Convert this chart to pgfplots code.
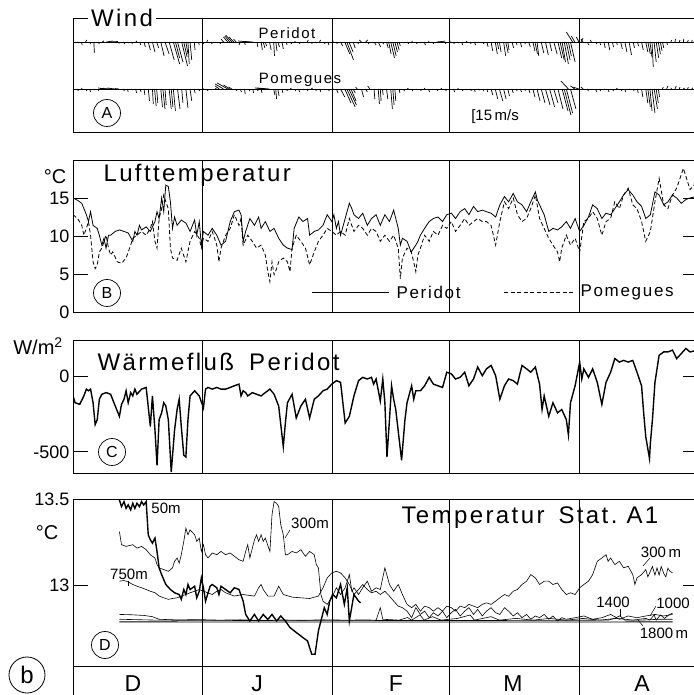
\documentclass[border=0pt]{standalone}
\usepackage{fontspec}
\setmainfont{Liberation Sans}
\newfontfamily\lsp[LetterSpace=10]{Liberation Sans}
\usepackage{pgfplots}
\pgfplotsset{compat=1.18}
\newcommand\tickfont{\fontsize{18}{18}\selectfont}
\pgfplotsset{
  panel/.style={scale only axis, width=625pt, xmin=0, xmax=149.5,
    anchor=south west, axis line style={line width=0.9pt},
    xtick={31,62,90,121}, xticklabels={}, xmajorgrids,
    major x grid style={black, line width=0.6pt},
    x tick style={draw=none},
    y tick style={black, line width=0.7pt},
    major tick length=15pt,
    every tick label/.append style={font=\tickfont},
    /pgf/number format/assume math mode=true},
}
\pgfplotstableread{
x y u v
0 90 0.2 -2
1 90 0.3 -1
2 90 0.2 -3
3 90 0.3 2
4 90 0.2 -2
5 90 0.1 -11
6 90 0.3 -2
7 90 0.4 1
8 90 1.5 1
9 90 1.8 0.5
10 90 1.2 -1
11 90 1.8 0
12 90 0.4 -2
13 90 0.3 -1
14 90 0.2 -2
15 90 0.3 1
16 90 0.2 -3
17 90 0.3 -5
18 90 0.5 -8
19 90 0.6 -10
20 90 0.5 -6
21 90 0.8 -14
22 90 1.0 -12
23 90 1.2 -18
24 90 1.5 -22
24.5 90 1.0 -16
25 90 1.3 -20
26 90 1.4 -24
26.5 90 0.8 -15
27 90 0.5 -12
27.5 90 0.3 -22
28 90 0.4 -18
29 90 0.2 -8
30 90 0.2 -3
31 90 0.3 -2
32 90 0.2 2
33 90 0.3 -2
34 90 0.2 -1
35 90 0.3 -2
36 90 -0.6 3
37 90 -1.0 5
37.5 90 -1.2 6
38 90 -1.5 7
38.5 90 -1.2 5
39 90 -0.6 3
40 90 -0.3 -3
41 90 0.2 -3
42 90 -2.5 1
43 90 -2.0 0.5
44 90 0.2 -5
45 90 0.3 -8
45.5 90 0.4 -6
46 90 0.3 -4
47 90 0.4 -8
48 90 0.2 -14
48.5 90 0.3 -9
49 90 0.4 -5
50 90 0.3 -7
51 90 0.2 -3
52 90 0.3 -2
53 90 0.2 1
54 90 0.3 -2
55 90 0.2 -1
56 90 0.3 2
57 90 0.2 -2
58 90 0.3 -1
59 90 0.2 2
60 90 0.3 -2
61 90 0.2 -3
62 90 0.3 1
63 90 0.2 -2
64 90 0.5 -4
65 90 1.2 -12
65.5 90 1.6 -18
66 90 1.0 -10
67 90 0.5 -6
68 90 0.3 -2
69 90 -0.5 2
70 90 0.5 2
71 90 -0.4 -2
72 90 0.5 -3
73 90 0.6 -5
74 90 0.3 -2
75 90 0.4 -6
75.5 90 0.6 -12
76 90 0.9 -16
76.5 90 0.8 -14
77 90 0.6 -10
77.5 90 0.5 -8
78 90 0.3 -4
79 90 0.2 -1
80 90 0.3 -2
81 90 0.2 1
82 90 0.3 -2
83 90 0.2 -1
84 90 0.3 -3
85 90 0.2 1
86 90 0.3 -2
87 90 1.2 0.5
88 90 1.0 1
89 90 0.2 -2
90 90 0.3 1
91 90 0.2 -2
92 90 0.3 -1
93 90 0.2 -3
94 90 0.3 1
95 90 0.2 -2
96 90 0.3 -3
97 90 0.2 -1
98 90 0.3 -2
99 90 0.3 -5
100 90 0.4 -9
101 90 0.5 -12
101.5 90 0.3 -7
102 90 0.4 -10
103 90 0.5 -14
103.5 90 0.6 -11
104 90 0.3 -8
105 90 0.4 -6
106 90 0.2 -3
107 90 0.3 -5
108 90 0.2 -2
109 90 0.4 -5
110 90 0.5 -9
110.5 90 0.6 -12
111 90 0.4 -14
112 90 0.6 -11
113 90 0.7 -13
114 90 0.5 -9
115 90 0.8 -12
116 90 0.9 -16
116.5 90 1.0 -18
117 90 0.8 -20
117.5 90 1.0 -22
118 90 0.9 -18
118.5 90 0.7 -14
119 90 1.1 -20
119.5 90 -1.5 10
120 90 -0.8 6
121 90 -0.6 5
121.5 90 0.5 4
122 90 -0.5 3
123 90 0.4 -3
124 90 -0.3 2
125 90 0.3 -2
126 90 0.2 -3
127 90 0.3 -6
128 90 0.4 -8
129 90 0.3 -5
130 90 0.2 -3
131 90 0.4 -7
132 90 0.5 -10
133 90 0.6 -13
134 90 0.3 -6
135 90 0.3 -4
136 90 0.4 -8
137 90 0.5 -10
137.5 90 0.6 -12
138 90 0.5 -15
138.5 90 0.3 -25
139 90 0.5 -20
139.5 90 0.6 -16
140 90 0.5 -12
140.5 90 0.4 -9
141 90 0.3 -6
142 90 0.2 -3
143 90 0.2 2
144 90 0.1 3
145 90 0.2 2
146 90 0.1 3
147 90 0.2 2
148 90 0.1 2
}\windperidot
\pgfplotstableread{
x y u v
0 43 0.2 -1
1 43 0.3 -2
2 43 0.2 1
3 43 0.3 -2
4 43 0.2 -3
5 43 0.3 -1
6 43 0.2 -2
7 43 0.3 1
8 43 -2.0 1
9 43 -2.5 0.5
10 43 -1.8 1
11 43 -1.0 0.5
12 43 0.3 -2
13 43 0.2 -3
14 43 0.3 -1
15 43 0.2 -4
16 43 0.3 -3
17 43 0.2 -6
18 43 0.3 -12
19 43 0.2 -15
19.5 43 0.4 -17
20 43 0.3 -14
21 43 0.4 -18
21.5 43 0.5 -20
22 43 0.3 -16
23 43 0.5 -20
23.5 43 0.4 -18
24 43 0.5 -22
25 43 0.6 -20
26 43 0.3 -14
27 43 0.5 -19
28 43 0.4 -12
29 43 0.2 -4
30 43 0.3 -2
31 43 0.2 1
32 43 0.3 -2
33 43 0.2 -1
34 43 0.3 1
35 43 -1.0 3
36 43 -2.0 5
37 43 -2.5 6
37.5 43 -1.5 4
38 43 -0.8 2
39 43 0.2 -2
40 43 0.3 -3
41 43 0.2 -5
42 43 0.3 -2
43 43 0.2 -4
44 43 0.3 -2
45 43 0.2 -4
46 43 -2.5 1
47 43 -3.0 1
48 43 0.3 -6
48.5 43 0.2 -10
49 43 0.3 -7
50 43 0.2 -4
51 43 0.3 -2
52 43 0.2 1
53 43 0.3 -2
54 43 0.2 -3
55 43 0.3 -1
56 43 0.2 -2
57 43 0.3 1
58 43 0.2 -2
59 43 0.3 -3
60 43 0.2 -1
61 43 0.3 -2
62 43 0.2 1
63 43 0.4 -4
64 43 1.0 -8
65 43 1.5 -14
65.5 43 2.0 -18
66 43 1.8 -16
66.5 43 1.2 -12
67 43 0.5 -4
68 43 -0.4 2
69 43 0.5 -8
70 43 0.4 -3
71 43 -0.5 3
72 43 0.2 -10
73 43 0.3 -15
73.5 43 0.2 -12
74 43 0.2 -6
75 43 0.3 -10
76 43 0.4 -20
76.5 43 0.3 -16
77 43 0.2 -12
78 43 0.2 -4
79 43 0.3 -2
80 43 0.2 1
81 43 0.3 -2
82 43 0.2 -1
83 43 0.3 -2
84 43 0.2 1
85 43 0.3 -3
86 43 0.2 -1
87 43 0.3 -2
88 43 0.2 1
89 43 0.3 -2
90 43 0.2 -1
91 43 0.3 -3
92 43 0.2 1
93 43 0.3 -2
94 43 0.2 -1
95 43 0.3 -2
96 43 0.2 -3
97 43 0.3 -1
98 43 0.2 -2
99 43 0.2 -3
100 43 0.4 -6
101 43 0.6 -10
102 43 0.8 -12
103 43 0.6 -10
104 43 0.4 -7
105 43 0.3 -4
106 43 0.2 -2
107 43 0.3 -3
108 43 0.2 -2
109 43 0.3 -4
110 43 0.5 -8
111 43 0.7 -12
112 43 0.9 -14
113 43 1.1 -16
114 43 1.2 -18
115 43 1.0 -14
116 43 1.2 -20
117 43 1.4 -22
117.5 43 1.6 -26
118 43 1.5 -24
118.5 43 -1.8 8
119 43 1.3 -20
120 43 -1.0 3
121 43 -1.5 2
122 43 -0.5 2
123 43 0.3 -2
124 43 0.2 -1
125 43 0.3 -3
126 43 0.2 -2
127 43 0.3 -1
128 43 0.2 -3
129 43 0.3 -2
130 43 0.2 1
131 43 0.3 -2
132 43 0.2 -3
133 43 0.3 -1
134 43 0.2 -2
135 43 0.2 -4
136 43 0.3 -8
137 43 0.5 -14
137.5 43 0.6 -18
138 43 0.5 -22
138.5 43 0.7 -24
139 43 0.8 -20
139.5 43 0.5 -14
140 43 0.3 -8
141 43 0.2 2
142 43 0.3 3
143 43 0.2 1
144 43 0.3 3
145 43 0.2 2
146 43 0.3 1
147 43 0.2 2
148 43 0.3 1
}\windpomegues
\begin{document}
\begin{tikzpicture}[x=1pt,y=1pt]
% ---------------- Panel A: wind
\begin{axis}[panel, at={(73pt,563pt)}, height=114pt, ymin=0, ymax=114, ytick=\empty]
\addplot[black, line width=0.5pt] coordinates {(0,90) (149.5,90)};
\addplot[black, line width=0.5pt] coordinates {(0,43) (149.5,43)};
\addplot[black, line width=0.7pt, quiver={u=\thisrow{u}, v=\thisrow{v}}] table[x=x, y=y] {\windperidot};
\addplot[black, line width=0.7pt, quiver={u=\thisrow{u}, v=\thisrow{v}}] table[x=x, y=y] {\windpomegues};
\end{axis}
% ---------------- Panel B: air temperature
\begin{axis}[panel, at={(73pt,383pt)}, height=152pt, ymin=0, ymax=20,
  ytick={0,5,10,15}, yticklabels={0,5,10,15}]
\addplot[black, line width=0.8pt] coordinates {
(0,15.0) (1.1,14.7) (2.1,14.3) (3.2,12.8) (3.7,11.9) (4.2,13.2) (4.8,11.4) (5.8,11.0) (6.3,10.1) (6.9,8.8)
(7.4,9.7) (7.9,8.4) (8.5,10.1) (9.0,10.1) (10.1,10.6) (11.1,10.8) (12.2,10.6) (13.2,10.4) (14.3,9.3) (14.8,10.6)
(15.3,10.1) (15.9,11.4) (16.4,10.8) (17.5,11.2) (18.5,10.6) (19.6,11.9) (20.1,13.2) (20.6,12.3) (21.2,15.0) (21.7,13.2)
(22.2,16.7) (22.8,16.5) (23.3,14.5) (23.8,11.0) (24.3,12.5) (24.9,11.4) (25.9,12.1) (27.0,11.7) (28.0,10.6) (29.1,12.1)
(29.6,10.1) (30.2,11.9) (30.7,8.8) (31.2,10.6) (32.3,10.1) (33.3,11.0) (34.4,10.1) (35.4,8.8) (36.5,9.3) (37.6,11.9)
(38.6,13.2) (39.7,13.4) (40.2,12.8) (40.7,9.3) (41.3,10.6) (42.3,12.3) (43.4,11.4) (44.4,12.5) (45.0,11.0) (46.0,11.9)
(47.1,10.6) (48.1,11.0) (49.2,9.7) (50.3,8.8) (51.3,8.4) (52.4,8.2) (52.9,11.0) (54.0,12.5) (55.0,11.9) (56.1,12.3)
(56.6,10.1) (57.7,10.6) (58.7,10.8) (59.8,11.4) (60.8,12.8) (61.9,11.9) (62.4,12.8) (63.0,11.0) (63.5,11.9) (64.0,10.1)
(65.1,12.3) (66.1,14.3) (66.7,13.6) (67.2,12.8) (68.3,12.3) (69.3,13.0) (70.4,11.4) (71.4,12.3) (72.5,12.8) (73.5,11.4)
(74.6,12.8) (75.7,11.9) (76.7,13.4) (77.8,11.0) (78.3,8.8) (78.8,9.7) (79.9,9.3) (80.9,7.9) (82.0,8.8) (82.5,9.3)
(83.1,10.1) (84.1,11.0) (85.2,11.9) (86.2,12.3) (87.3,12.5) (88.4,11.9) (89.4,12.8) (90.5,13.0) (91.5,12.3) (92.6,13.2)
(93.7,13.6) (94.7,12.8) (95.8,13.9) (96.8,13.2) (97.9,13.4) (98.9,13.2) (100.0,13.0) (101.1,12.5) (102.1,14.1) (103.2,15.2)
(104.2,14.5) (105.3,15.6) (106.3,14.5) (107.4,14.1) (108.5,13.2) (109.5,14.5) (110.6,15.8) (111.1,14.7) (111.6,14.1) (112.7,12.8)
(113.8,10.6) (114.8,11.0) (115.9,10.8) (116.9,11.2) (118.0,11.9) (119.0,11.0) (120.1,12.3) (121.2,10.6) (122.2,11.4) (123.3,12.5)
(124.3,14.1) (125.4,13.6) (126.5,12.3) (127.5,13.0) (128.6,12.8) (129.6,13.6) (130.7,14.5) (131.7,15.4) (132.8,16.1) (133.9,15.4)
(134.9,14.5) (136.0,13.9) (137.0,12.3) (138.1,12.8) (139.2,15.8) (140.2,15.4) (141.3,14.1) (142.3,14.5) (143.4,15.4) (144.4,15.0)
(145.5,14.3) (146.6,14.8) (147.6,15.0) (149,15.2)};
\addplot[black, line width=0.8pt, dash pattern=on 4pt off 2.5pt] coordinates {
(0,12.8) (1.1,12.3) (2.1,11.4) (2.6,10.1) (3.2,11.0) (3.7,11.9) (4.2,10.1) (4.8,6.6) (5.3,5.7) (5.8,6.2)
(6.3,7.9) (6.9,8.4) (7.9,10.1) (8.5,8.4) (9.0,7.5) (9.5,7.9) (10.6,6.6) (11.6,6.4) (12.7,7.1) (13.8,8.8)
(14.3,9.7) (15.3,10.1) (16.4,10.6) (17.5,10.1) (18.5,11.0) (19.0,11.9) (19.6,9.3) (20.1,8.4) (20.6,12.3) (21.2,13.6)
(21.7,15.4) (22.2,14.5) (22.8,13.6) (23.3,8.4) (23.8,7.1) (24.9,6.8) (25.9,8.4) (27.0,6.6) (28.0,9.3) (29.1,10.6)
(30.2,9.7) (30.7,8.4) (31.2,9.7) (32.3,9.3) (33.3,10.6) (34.4,8.8) (34.9,6.6) (35.4,8.4) (36.5,10.1) (37.6,11.0)
(38.6,12.8) (39.7,11.4) (40.2,12.3) (40.7,8.8) (41.8,10.1) (42.9,9.3) (43.9,8.4) (45.0,8.8) (46.0,7.5) (46.6,5.3)
(47.1,4.0) (47.6,6.6) (48.1,4.9) (48.7,5.7) (49.2,6.6) (50.3,7.1) (51.3,6.6) (51.9,5.3) (52.4,8.4) (53.4,10.1)
(54.5,9.3) (55.6,8.4) (56.6,6.2) (57.7,7.9) (58.7,9.3) (59.8,10.1) (60.8,11.0) (61.9,10.6) (63.0,10.1) (64.0,10.6)
(65.1,10.1) (66.1,12.3) (67.2,10.6) (68.3,11.4) (69.3,11.0) (70.4,10.1) (71.4,11.0) (72.5,10.6) (73.5,9.3) (74.6,10.1)
(75.7,9.3) (76.7,10.1) (77.8,8.4) (78.3,4.4) (78.8,7.1) (79.9,8.4) (80.9,7.9) (81.5,6.6) (82.0,5.3) (82.5,7.5)
(83.1,8.4) (84.1,10.1) (85.2,9.3) (86.2,10.6) (87.3,10.1) (88.4,11.4) (89.4,11.0) (90.5,11.9) (91.5,10.6) (92.6,11.4)
(93.7,12.3) (94.7,11.4) (95.8,11.9) (96.8,12.3) (97.9,11.9) (98.9,11.9) (100.0,11.4) (101.1,8.8) (102.1,11.9) (103.2,14.5)
(104.2,13.6) (105.3,15.0) (106.3,12.8) (107.4,11.9) (108.5,12.3) (109.5,13.6) (110.6,15.4) (111.6,12.3) (112.7,11.0) (113.8,9.7)
(114.8,8.8) (115.9,7.9) (116.4,6.6) (116.9,8.4) (118.0,10.1) (119.0,8.8) (120.1,9.7) (121.2,7.9) (122.2,11.9) (123.3,12.3)
(124.3,13.2) (125.4,12.3) (126.5,10.1) (127.5,11.9) (128.6,12.3) (129.6,14.5) (130.7,13.6) (131.7,15.4) (132.8,16.3) (133.9,14.1)
(134.9,13.6) (136.0,11.9) (137.0,9.3) (138.1,10.6) (139.2,14.5) (140.2,17.6) (141.3,14.1) (142.3,13.6) (143.4,15.4) (144.4,16.3)
(146.0,18.9) (147.6,16.1) (149,17.0)};
\end{axis}
% ---------------- Panel C: heat flux
\begin{axis}[panel, at={(73pt,222pt)}, height=133pt, ymin=-640, ymax=240,
  ytick={-500,0}, yticklabels={-500,0}]
\addplot[black, line width=1.4pt] coordinates {
(0,-130) (0.5,-175) (1.6,-186) (2.6,-130) (3.2,-85) (3.7,-96) (4.2,-85) (4.8,-175) (5.3,-320) (5.8,-287)
(6.3,-152) (6.9,-119) (7.9,-108) (9.0,-119) (10.1,-197) (11.1,-265) (11.6,-186) (12.2,-152) (12.7,-96) (13.2,-175)
(13.8,-108) (14.3,-130) (14.8,-85) (15.3,-119) (16.4,-85) (17.5,-74) (18.5,-332) (19.0,-130) (19.6,-354) (20.1,-590)
(20.6,-287) (21.2,-242) (21.7,-175) (22.2,-197) (22.8,-287) (23.5,-634) (24.3,-354) (24.9,-220) (25.4,-152) (25.9,-332)
(26.5,-522) (27.0,-534) (27.5,-287) (28.0,-130) (29.1,-96) (30.2,-130) (31.2,-209) (31.7,-85) (32.3,-74) (33.3,-85)
(34.4,-74) (35.4,-85) (36.5,-85) (37.6,-74) (38.6,-63) (39.7,-52) (40.2,-130) (40.7,-96) (41.3,-108) (41.8,-130)
(42.9,-108) (43.9,-119) (45.0,-130) (46.0,-108) (47.1,-85) (48.1,-119) (49.2,-197) (50.3,-466) (50.8,-309) (51.3,-175)
(52.4,-119) (53.4,-276) (54.5,-197) (55.6,-152) (56.6,-276) (57.7,-152) (58.7,-130) (59.8,-96) (60.8,-85) (61.9,-52)
(63.0,-29) (64.0,-40) (65.1,-309) (66.1,-265) (67.2,-130) (68.3,-29) (69.3,-7) (70.4,-18) (71.4,-7) (71.9,-52)
(72.5,-18) (73.5,-164) (74.1,-18) (74.6,-175) (75.1,-534) (75.7,-287) (76.2,-63) (76.7,-152) (77.2,-220) (78.6,-556)
(79.4,-287) (79.9,-175) (81.0,-63) (81.5,-152) (82.0,-96) (83.1,-96) (84.1,-63) (85.2,-7) (86.2,-52) (87.3,-63)
(88.4,-74) (89.4,27) (90.5,16) (91.5,-18) (92.6,-7) (93.7,27) (94.7,-63) (95.8,-18) (96.8,61) (97.9,4)
(98.9,49) (100.0,72) (101.1,4) (102.1,-152) (103.2,-63) (104.2,-18) (105.3,-29) (106.3,-52) (107.4,72) (108.5,49)
(109.5,27) (110.6,61) (111.6,-52) (112.2,-220) (112.7,-130) (113.8,-265) (114.8,-175) (115.9,-242) (116.9,-220) (118.0,-287)
(118.5,-388) (119.0,-175) (120.1,-63) (121.2,94) (121.7,-18) (122.2,49) (123.3,-7) (124.3,49) (125.4,-40) (126.5,-186)
(127.5,-40) (128.6,27) (129.6,117) (130.7,94) (131.7,105) (132.8,94) (133.9,105) (134.9,27) (136.0,-63) (136.5,-242)
(137.0,-399) (137.9,-545) (138.1,-444) (138.6,-287) (139.2,-40) (140.2,139) (141.3,161) (142.3,161) (143.4,173) (144.4,117)
(145.5,150) (146.6,184) (147.6,161) (149,170)};
\end{axis}
% ---------------- Panel D: deep temperature
\begin{axis}[panel, at={(73pt,29pt)}, height=167pt, ymin=12.535, ymax=13.5,
  ytick={13,13.5}, yticklabels={13,13.5}]
% 50 m
\addplot[black, line width=1.4pt] coordinates {
(11.1,13.494) (11.6,13.456) (12.2,13.485) (12.7,13.446) (13.2,13.466) (13.8,13.437) (14.3,13.475) (14.8,13.446) (15.3,13.475) (15.9,13.456)
(16.4,13.485) (16.9,13.466) (17.5,13.485) (18.0,13.293) (18.5,13.264) (19.0,13.245) (19.6,13.274) (20.1,13.197) (20.6,13.102) (21.2,13.063)
(22.2,13.006) (23.3,12.977) (24.3,12.958) (25.4,12.948) (25.9,12.920) (26.5,12.977) (27.0,12.948) (27.5,13.006) (28.0,12.977) (29.1,12.996)
(29.6,12.929) (30.2,12.967) (30.7,13.044) (31.2,12.987) (31.7,12.910) (32.8,12.996) (33.3,13.006) (34.4,12.987) (34.9,12.948) (35.4,12.996)
(36.5,12.977) (37.6,12.958) (38.6,12.987) (39.7,12.977) (40.7,12.910) (41.3,12.833) (42.3,12.795) (43.4,12.833) (44.4,12.795) (45.5,12.833)
(46.6,12.804) (47.6,12.833) (48.7,12.795) (49.7,12.824) (50.8,12.795) (51.9,12.757) (52.9,12.738) (54.0,12.718) (55.0,12.699) (56.1,12.680)
(57.1,12.603) (57.9,12.603) (58.7,12.738) (59.5,12.814) (60.1,12.872) (60.8,12.833) (61.4,12.910) (62.1,12.948) (63.0,12.929) (64.0,13.006)
(64.9,12.891) (65.6,12.987) (66.1,12.795) (67.2,12.948) (68.3,12.910) (68.8,12.900)};
% 300 m
\addplot[black, line width=0.6pt] coordinates {
(11.1,13.312) (11.6,13.236) (12.7,13.226) (14.3,13.236) (15.3,13.216) (16.4,13.226) (17.5,13.207) (18.5,13.178) (19.6,13.159) (20.1,13.121)
(20.6,13.102) (21.7,13.092) (22.8,13.082) (23.8,13.102) (24.3,13.140) (24.9,13.159) (25.4,13.130) (25.9,13.178) (26.5,13.255) (27.0,13.331)
(27.5,13.293) (28.0,13.322) (29.1,13.293) (29.6,13.255) (30.2,13.274) (30.7,13.197) (31.2,13.236) (31.7,13.178) (32.3,13.159) (33.3,13.188)
(34.4,13.178) (35.4,13.197) (36.5,13.178) (37.6,13.188) (38.6,13.169) (39.7,13.149) (40.7,13.140) (41.3,13.197) (41.8,13.236) (42.3,13.159)
(42.9,13.216) (43.4,13.264) (43.9,13.293) (44.4,13.255) (45.0,13.293) (45.5,13.255) (46.0,13.274) (47.1,13.197) (47.6,13.408) (48.1,13.485)
(48.7,13.475) (49.2,13.456) (49.7,13.351) (50.3,13.293) (50.8,13.178) (51.3,13.178) (52.4,13.197) (53.4,13.188) (54.5,13.207) (55.6,13.169)
(56.6,13.197) (57.7,13.178) (58.2,13.121) (58.7,13.102) (59.3,12.948) (59.8,12.910) (60.8,12.891) (61.9,12.929) (63.0,12.987) (64.0,12.948)
(65.1,12.987) (66.1,13.063) (66.7,12.967) (67.2,12.987) (68.3,12.948) (69.3,12.987) (70.4,13.025) (71.4,12.967) (72.5,12.987) (73.5,12.977)
(74.6,13.102) (75.7,13.006) (76.7,12.967) (77.8,13.006) (78.8,12.948) (79.9,12.891) (81.0,12.872) (82.0,12.891) (83.1,12.852) (84.1,12.881)
(85.2,12.872) (86.2,12.852) (87.3,12.872) (88.4,12.852) (89.4,12.881) (90.5,12.872) (91.5,12.852) (92.6,12.881) (93.7,12.872) (94.7,12.891)
(95.8,12.881) (96.8,12.872) (97.9,12.891) (98.9,12.900) (100.0,12.891) (101.1,12.910) (102.1,12.929) (103.2,12.948) (104.2,12.938) (105.3,12.967)
(106.3,12.977) (107.4,13.006) (108.5,13.025) (109.5,13.063) (110.6,13.044) (111.6,13.006) (112.7,13.025) (113.8,13.025) (114.8,13.006) (115.9,13.015)
(116.9,12.977) (118.0,12.948) (119.0,12.958) (120.1,12.948) (121.2,12.987) (122.2,13.006) (123.3,13.025) (124.3,13.063) (125.4,13.140) (126.5,13.159)
(127.5,13.178) (128.0,13.140) (128.6,13.159) (129.6,13.121) (130.7,13.140) (131.7,13.102) (132.8,13.111) (133.9,13.063) (134.4,13.006) (134.9,13.044)
(136.0,13.063) (137.0,13.092) (137.5,13.050) (138.1,13.082) (138.6,13.110) (139.2,13.060) (139.7,13.102) (140.2,13.060) (140.7,13.110) (141.3,13.070)
(141.8,13.050) (142.3,13.100) (142.8,13.082) (143.4,13.073)};
% 750 m
\addplot[black, line width=0.6pt] coordinates {
(11.1,13.025) (12.2,13.029) (13.2,13.021) (14.3,13.006) (15.3,12.996) (16.4,12.987) (17.5,12.977) (18.5,12.967) (19.6,12.958) (20.6,12.939)
(21.7,12.929) (22.8,12.920) (23.8,12.925) (24.9,12.929) (25.9,12.939) (27.0,12.948) (28.0,12.958) (29.1,12.967) (30.2,12.977) (31.2,12.967)
(32.3,12.958) (33.3,12.948) (34.4,12.967) (35.4,12.977) (36.5,12.958) (37.6,12.948) (38.6,12.939) (39.7,12.944) (40.7,12.948) (41.8,12.944)
(43.4,12.939) (44.4,12.987) (45.0,13.006) (45.5,12.977) (46.6,12.939) (48.1,12.939) (49.2,12.996) (50.3,12.948) (52.4,12.933) (54.5,12.929)
(56.6,12.925) (58.7,12.939) (59.8,12.987) (60.8,13.044) (61.9,13.073) (63.0,13.082) (64.0,13.073) (65.1,13.044) (66.1,13.006) (67.2,12.948)
(68.3,12.977) (69.3,13.006) (70.4,12.977) (71.4,12.958) (72.5,12.967) (73.5,12.948) (74.6,12.967) (75.7,12.939) (76.7,12.910) (77.8,12.881)
(78.8,12.872) (79.9,12.852) (81.0,12.814) (82.0,12.872) (83.1,12.833) (84.1,12.852) (85.2,12.814) (86.2,12.843) (87.3,12.824) (88.4,12.852)
(89.4,12.814) (90.5,12.843) (91.5,12.862) (92.6,12.824) (93.7,12.852) (94.7,12.872) (95.8,12.833) (96.8,12.862) (97.9,12.824) (98.9,12.852)
(100.0,12.872) (101.1,12.843) (102.1,12.833) (103.2,12.872) (104.2,12.852) (105.3,12.824) (106.3,12.843) (107.4,12.814) (108.5,12.833) (109.5,12.805)
(110.6,12.824) (111.6,12.814) (112.7,12.833) (113.8,12.805) (114.8,12.824) (115.9,12.795) (116.9,12.814) (118.0,12.805) (120.1,12.814) (122.2,12.824)
(124.3,12.805) (126.5,12.814) (128.6,12.833) (130.7,12.805) (132.8,12.824) (134.9,12.814) (137.0,12.824) (139.2,12.833) (141.3,12.824) (143.4,12.833)};
% 1000 m
\addplot[black, line width=0.6pt] coordinates {
(11.1,12.833) (14,12.831) (17,12.827) (19,12.820) (20.6,12.805) (25,12.801) (30,12.803) (35,12.800) (40,12.802) (45,12.798)
(50,12.801) (55,12.799) (60,12.802) (65,12.800) (70,12.801) (72.5,12.800) (73.5,12.872) (74.1,12.805) (78,12.800) (80,12.815)
(81,12.800) (83,12.830) (84,12.800) (86,12.820) (88,12.800) (92,12.810) (95,12.830) (96,12.800) (100,12.820) (102,12.800)
(106,12.810) (110,12.800) (114,12.810) (118,12.800) (122,12.810) (126,12.800) (130,12.810) (134,12.800) (137,12.810) (138,12.800)
(139,12.830) (139.5,12.800) (140.5,12.830) (141.5,12.810) (142.5,12.830) (143.4,12.840)};
% 1400 m
\addplot[black, line width=0.6pt] coordinates {
(11.1,12.805) (20,12.800) (40,12.798) (60,12.797) (80,12.798) (100,12.798) (120,12.799) (128,12.800) (129.5,12.810) (130.8,12.825)
(132,12.800) (136,12.800) (140,12.805) (143.4,12.805)};
% 1800 m
\addplot[black, line width=0.9pt] coordinates {
(11.1,12.790) (40,12.789) (80,12.789) (120,12.789) (143.4,12.790)};
\end{axis}
% ---------------- month row
\begin{axis}[scale only axis, width=625pt, height=40pt, at={(73pt,-11pt)}, anchor=south west,
  xmin=0, xmax=149.5, ymin=0, ymax=1, axis lines*=left, axis line style={line width=0.9pt, -},
  xtick={31,62,90,121}, xticklabels={}, xmajorgrids, major x grid style={black, line width=0.6pt},
  x tick style={draw=none}, ytick=\empty]
\end{axis}
% ---------------- texts
\node[fill=white, anchor=west, inner sep=3pt, font=\lsp\fontsize{24}{24}\selectfont] at (88,677) {Wind};
\node[font=\lsp\fontsize{15}{15}\selectfont] at (287,662) {Peridot};
\node[font=\lsp\fontsize{15}{15}\selectfont] at (300,615) {Pomegues};
\node[font=\fontsize{15}{15}\selectfont] at (495,578) {[15\,m/s};
\node[circle, draw, line width=0.7pt, minimum size=27pt, inner sep=0pt, font=\fontsize{16}{16}\selectfont] at (107,582) {A};
\node[font=\fontsize{20}{20}\selectfont] at (55,518) {°C};
\node[anchor=west, font=\lsp\fontsize{24}{24}\selectfont] at (100,520) {Lufttemperatur};
\node[circle, draw, line width=0.7pt, minimum size=27pt, inner sep=0pt, font=\fontsize{16}{16}\selectfont] at (107,402) {B};
\draw[line width=0.8pt] (312,403) -- (389,403);
\node[anchor=west, font=\lsp\fontsize{17}{17}\selectfont] at (393,403) {Peridot};
\draw[line width=0.8pt, dash pattern=on 4pt off 2.5pt] (504,403) -- (575,403);
\node[anchor=west, font=\lsp\fontsize{17}{17}\selectfont] at (577,403) {Pomegues};
\node[font=\fontsize{20}{20}\selectfont] at (38,349) {W/m\textsuperscript{2}};
\node[anchor=west, font=\lsp\fontsize{24}{24}\selectfont] at (94,333) {Wärmefluß\hspace{6pt} Peridot};
\node[circle, draw, line width=0.7pt, minimum size=27pt, inner sep=0pt, font=\fontsize{16}{16}\selectfont] at (112,243) {C};
\node[font=\fontsize{20}{20}\selectfont] at (47,162) {°C};
\node[anchor=west, font=\lsp\fontsize{24}{24}\selectfont] at (398,177) {Temperatur\hspace{14pt}Stat.\ A1};
\node[circle, draw, line width=0.7pt, minimum size=27pt, inner sep=0pt, font=\fontsize{16}{16}\selectfont] at (105,50) {D};
\node[circle, draw, line width=0.8pt, minimum size=36pt, inner sep=0pt, font=\fontsize{24}{24}\selectfont] at (27,20) {b};
\node[font=\fontsize{15}{15}\selectfont] at (166,187) {50m};
\node[font=\fontsize{15}{15}\selectfont] at (310,172) {300m};
\draw[line width=0.5pt] (290,165) -- (285,157);
\node[font=\fontsize{15}{15}\selectfont] at (129,121) {750m};
\draw[line width=0.5pt] (128,114) -- (128,109);
\node[font=\fontsize{15}{15}\selectfont] at (661,143) {300\,m};
\draw[line width=0.5pt] (650,137) -- (643,129);
\node[font=\fontsize{15}{15}\selectfont] at (613,93) {1400};
\draw[line width=0.5pt] (620,86) -- (620,78);
\node[font=\fontsize{15}{15}\selectfont] at (673,92) {1000};
\draw[line width=0.5pt] (656,89) -- (650,79);
\node[font=\fontsize{15}{15}\selectfont] at (664,62) {1800\,m};
\draw[line width=0.5pt] (643,69) -- (638,75);
\foreach \m/\xx in {D/133, J/257, F/396, M/513, A/642}
  \node[anchor=base, inner sep=0pt, font=\fontsize{23}{23}\selectfont] at (\xx,4) {\m};
\pgfresetboundingbox
\path[use as bounding box] (0,0) rectangle (693,695);
\end{tikzpicture}
\end{document}
